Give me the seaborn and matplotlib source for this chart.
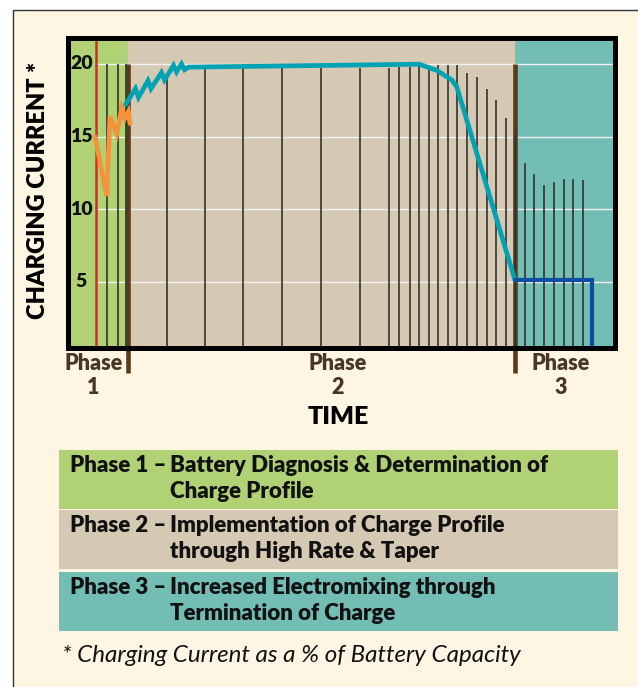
import matplotlib
matplotlib.use("Agg")
import matplotlib.pyplot as plt
from matplotlib.patches import Rectangle
import seaborn as sns

# ------------------------------
# Data (time in arbitrary units, current in % of battery capacity)
# ------------------------------
phase_edges = [0, 60.5, 447.5, 547]
red_marker_time = 28.0

# phase 1 diagnosis pulses (orange)
orange_time = [27.5, 39.2, 42.5, 49.2, 54.2, 57.5, 60.8, 62.5]
orange_current = [15.0, 10.9, 16.4, 15.2, 16.95, 16.27, 16.7, 15.9]

# phase 2 high rate & taper (teal)
teal_time = [58, 68, 71, 80.5, 83.5, 94, 97, 106, 109, 114, 117,
             121, 351.8, 369.5, 384.2, 389.2, 447.5]
teal_current = [17.2, 18.3, 17.7, 18.85, 18.3, 19.4, 18.9, 19.9, 19.45, 20.0, 19.6,
                19.78, 19.98, 19.55, 18.9, 18.44, 5.12]

# phase 3 finishing current (blue)
blue_time = [447.5, 524.7, 524.7]
blue_current = [5.12, 5.12, 0.0]

# vertical pulse lines
pulse_time = [39.2, 50.2, 58.3,
              99.2, 137.2, 175.8, 214.8, 253.5, 292.8, 321.5, 331.8, 342.5, 351.8,
              361.5, 370.8, 380.5, 389.8, 399.2, 409.8, 419.5, 428.8, 438.2, 447.5,
              457.5, 466.8, 476.2, 486.8, 496.2, 505.8, 515.5]
pulse_top = [20, 20, 20,
             19.1, 19.7, 19.7, 19.7, 19.7, 19.75, 19.75, 19.8, 19.8, 19.95,
             19.95, 19.95, 19.95, 19.95, 19.4, 19.1, 18.25, 17.55, 16.25, 15.2,
             13.15, 12.45, 11.65, 11.85, 12.05, 12.1, 12.0]

y_ticks = [20, 15, 10, 5]
phase_labels = ["Phase", "Phase", "Phase"]
phase_numbers = ["1", "2", "3"]

legend_heads = ["Phase 1 –", "Phase 2 –", "Phase 3 –"]
legend_line1 = ["Battery Diagnosis & Determination of",
                "Implementation of Charge Profile",
                "Increased Electromixing through"]
legend_line2 = ["Charge Profile", "through High Rate & Taper", "Termination of Charge"]

# ------------------------------
# Style
# ------------------------------
GREEN = "#B0D274"
TAN = "#D5C9B4"
TEAL = "#72BDB4"
CREAM = "#FEF5E2"
BROWN = "#5B3A1C"
LABEL_BROWN = "#4A3626"
HEAVY = "heavy"

sns.set_style("white")
plt.rcParams["font.family"] = ["Lato", "DejaVu Sans"]

W, H = 638, 687
fig = plt.figure(figsize=(W / 100, H / 100), dpi=100, facecolor="white")

# outer cream frame
fig.add_artist(Rectangle((12.5 / W, -0.05), 1.1, 1 - 10 / H + 0.05, transform=fig.transFigure,
                         facecolor=CREAM, edgecolor="#333333", lw=1.0, zorder=0))

ax = fig.add_axes([67.5 / W, (H - 348) / H, 547 / W, (348 - 37.5) / H])
ax.set_facecolor(TAN)
ax.set_xlim(phase_edges[0], phase_edges[-1])
ax.set_ylim(0.45, 21.82)

for (x0, x1), c in zip(zip(phase_edges[:-1], phase_edges[1:]), [GREEN, TAN, TEAL]):
    ax.axvspan(x0, x1, color=c, lw=0, zorder=0)

ax.hlines(y_ticks, red_marker_time, phase_edges[-1], color="#F2F2F2", lw=1.0, zorder=1)

# phase dividers (extend below the axes)
ax.vlines([phase_edges[1], phase_edges[2]], -1.25, 20, color=BROWN, lw=3.3,
          zorder=2, clip_on=False)

ax.vlines(pulse_time, 0, pulse_top, color="#35312c", lw=1.2, zorder=3)
ax.axvline(red_marker_time, color="#E3242B", lw=1.8, zorder=4)

sns.lineplot(x=orange_time, y=orange_current, ax=ax, color="#F6923A", lw=3.4,
             sort=False, estimator=None, solid_joinstyle="miter", zorder=5)
sns.lineplot(x=teal_time, y=teal_current, ax=ax, color="#00A2B3", lw=3.4,
             sort=False, estimator=None, solid_joinstyle="miter", zorder=6)
sns.lineplot(x=blue_time, y=blue_current, ax=ax, color="#0D4EA2", lw=3.0,
             sort=False, estimator=None, solid_joinstyle="miter", zorder=7)

for v in y_ticks:
    ax.text(13.8, v, str(v), ha="center", va="center", fontsize=14,
            fontweight=HEAVY, color="#111111", zorder=8)

ax.set_xticks([])
ax.set_yticks([])
ax.set_xlabel("")
ax.set_ylabel("")
for s in ax.spines.values():
    s.set_color("black")
    s.set_linewidth(3.6)
    s.set_zorder(10)

# phase names under the axis
for xc, name, num in zip([25.8, 270.5, 493.5], phase_labels, phase_numbers):
    ax.text(xc, -0.65, name, ha="center", va="center", fontsize=15.5,
            fontweight=HEAVY, color=LABEL_BROWN, clip_on=False)
    ax.text(xc, -2.3, num, ha="center", va="center", fontsize=15.5,
            fontweight=HEAVY, color=LABEL_BROWN, clip_on=False)
ax.text(270.5, -4.3, "TIME", ha="center", va="center", fontsize=18,
        fontweight=HEAVY, color="black", clip_on=False)

fig.text(38 / W, 1 - 190 / H, "CHARGING CURRENT *", rotation=90, ha="center",
         va="center", fontsize=17, fontweight=HEAVY, color="black")

# ------------------------------
# Phase legend boxes
# ------------------------------
boxes = [(450, 508.5), (510, 568.5), (572, 630.5)]
for (top, bot), c, head, l1, l2 in zip(boxes, [GREEN, TAN, TEAL], legend_heads,
                                        legend_line1, legend_line2):
    fig.add_artist(Rectangle((59 / W, 1 - bot / H), 559 / W, (bot - top) / H,
                             transform=fig.transFigure, facecolor=c, lw=0))
    y1 = 1 - (top + 15) / H
    y2 = 1 - (top + 42) / H
    fig.text(69.8 / W, y1, head, ha="left", va="center", fontsize=16,
             fontweight=HEAVY, color="#111111")
    fig.text(169.8 / W, y1, l1, ha="left", va="center", fontsize=16,
             fontweight=HEAVY, color="#111111")
    fig.text(169.8 / W, y2, l2, ha="left", va="center", fontsize=16,
             fontweight=HEAVY, color="#111111")

fig.text(62 / W, 1 - 655 / H, "* Charging Current as a % of Battery Capacity",
         ha="left", va="center", fontsize=17.4, style="italic", color="#111111")

fig.savefig("out.png", dpi=100, facecolor=fig.get_facecolor())
